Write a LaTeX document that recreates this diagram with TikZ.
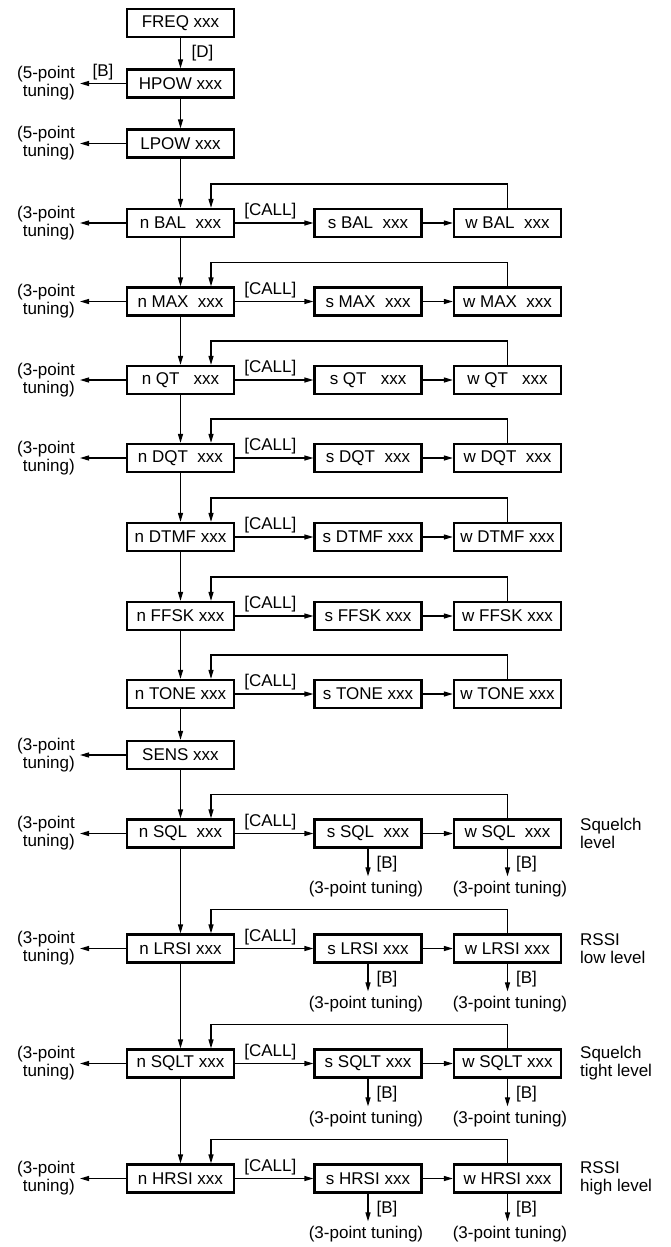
\documentclass[tikz,border=0pt]{standalone}
\usepackage{fontspec}
\setmainfont{Liberation Sans}
\usetikzlibrary{arrows.meta}
\begin{document}
\begin{tikzpicture}[x=1pt,y=-1pt,
  box/.style={draw, line width=2.2pt, minimum width=107pt, minimum height=28pt, inner sep=0pt, font=\fontsize{17}{18}\selectfont},
  lbl/.style={font=\fontsize{17}{18}\selectfont, inner sep=0pt},
  conn/.style={line width=1.2pt, -{Triangle[length=9pt,width=5pt]}},
  plainline/.style={line width=1.2pt}]
\useasboundingbox (0,0) rectangle (670,1247);

% top column
\node[box] (freq) at (180.5,23) {FREQ xxx};
\node[box] (hpow) at (180.5,83.5) {HPOW xxx};
\node[box] (lpow) at (180.5,143.5) {LPOW xxx};
\node[box] (sens) at (180.5,755) {SENS xxx};

% rows with s / w boxes
\foreach \id/\txt/\yy in {bal/{BAL\ \ xxx}/223, max/{MAX\ \ xxx}/301.5, qt/{QT\ \ \ xxx}/380,
  dqt/{DQT\ \ xxx}/458, dtmf/{DTMF xxx}/537, ffsk/{FFSK xxx}/616, tone/{TONE xxx}/694,
  sql/{SQL\ \ xxx}/833.5, lrsi/{LRSI xxx}/948.5, sqlt/{SQLT xxx}/1063.5, hrsi/{HRSI xxx}/1178.5}{
  \node[box] (n\id) at (180.5,\yy) {n \txt};
  \node[box] (s\id) at (368,\yy) {s \txt};
  \node[box] (w\id) at (507.5,\yy) {w \txt};
  \draw[conn] (n\id.east) -- (s\id.west) node[lbl, pos=0.45, above=3pt] (c\id) {[CALL]};
  \draw[conn] (s\id.east) -- (w\id.west);
  \draw[conn] (w\id.north) -- ++(0,-24) -| ([xshift=30.5pt]n\id.north);
}

% main vertical chain
\draw[conn] (freq.south) -- (hpow.north) node[lbl, midway, right=10.5pt] (dlbl) {[D]};
\draw[conn] (hpow) -- (lpow);
\draw[conn] (lpow) -- (nbal);
\draw[conn] (nbal) -- (nmax);
\draw[conn] (nmax) -- (nqt);
\draw[conn] (nqt) -- (ndqt);
\draw[conn] (ndqt) -- (ndtmf);
\draw[conn] (ndtmf) -- (nffsk);
\draw[conn] (nffsk) -- (ntone);
\draw[conn] (ntone) -- (sens);
\draw[conn] (sens) -- (nsql);
\draw[conn] (nsql) -- (nlrsi);
\draw[conn] (nlrsi) -- (nsqlt);
\draw[conn] (nsqlt) -- (nhrsi);

% left tuning labels
\node[lbl, align=right, anchor=east] (lhpow) at (75,83.5) {(5-point\\tuning)};
\node[lbl, align=right, anchor=east] (llpow) at (75,143.5) {(5-point\\tuning)};
\draw[conn] (hpow.west) -- ([xshift=5pt]lhpow.east) node[lbl, midway, above=2.5pt] (blbl) {[B]};
\draw[conn] (lpow.west) -- ([xshift=5pt]llpow.east);
\node[lbl, align=right, anchor=east] (lsens) at (75,755) {(3-point\\tuning)};
\draw[conn] (sens.west) -- ([xshift=5pt]lsens.east);
\foreach \id/\yy in {bal/223, max/301.5, qt/380, dqt/458, sql/833.5, lrsi/948.5, sqlt/1063.5, hrsi/1178.5}{
  \node[lbl, align=right, anchor=east] (l\id) at (75,\yy) {(3-point\\tuning)};
  \draw[conn] (n\id.west) -- ([xshift=5pt]l\id.east);
}

% [B] branches below s / w boxes
\foreach \id/\yy in {sql/833.5, lrsi/948.5, sqlt/1063.5, hrsi/1178.5}{
  \node[lbl] (ts\id) at (366,\yy+56) {(3-point tuning)};
  \node[lbl] (tw\id) at (510,\yy+56) {(3-point tuning)};
  \draw[conn] (s\id.south) -- ([yshift=5pt]s\id.south |- ts\id.north) node[lbl, pos=0.55, right=8pt] {[B]};
  \draw[conn] (w\id.south) -- ([yshift=5pt]w\id.south |- tw\id.north) node[lbl, pos=0.55, right=8pt] {[B]};
}

% right descriptions
\node[lbl, align=left, anchor=west] (rsql) at (580,833.5) {Squelch\\level};
\node[lbl, align=left, anchor=west] (rlrsi) at (580,948.5) {RSSI\\low level};
\node[lbl, align=left, anchor=west] (rsqlt) at (580,1063.5) {Squelch\\tight level};
\node[lbl, align=left, anchor=west] (rhrsi) at (580,1178.5) {RSSI\\high level};
\end{tikzpicture}
\end{document}
